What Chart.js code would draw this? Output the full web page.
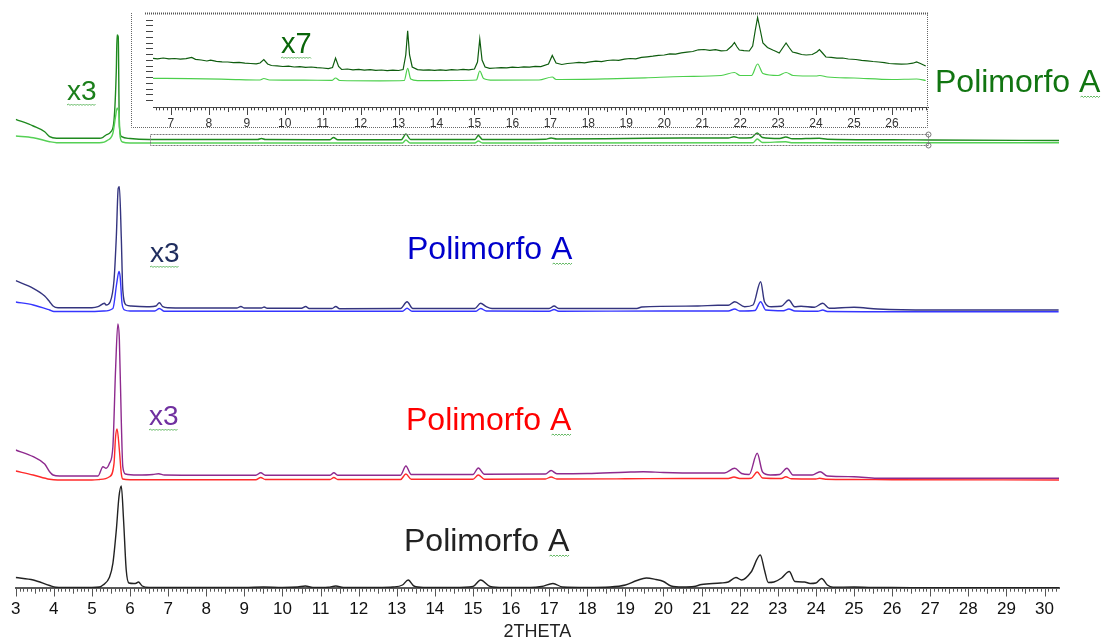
<!DOCTYPE html>
<html>
<head>
<meta charset="utf-8">
<script src="https://cdn.jsdelivr.net/npm/chart.js@4/dist/chart.umd.min.js"></script>
<style>
  html, body { margin: 0; padding: 0; background: #ffffff; }
  #wrap { position: relative; width: 1102px; height: 643px; overflow: hidden; }
  #main { position: absolute; left: 0; top: 0; }
  #inset { position: absolute; left: 131px; top: 12px; }
</style>
</head>
<body>
<div id="wrap">
  <canvas id="main" width="1102" height="643"></canvas>
  <canvas id="inset" width="798" height="118"></canvas>
</div>
<script>
// ---------------- DATA (2THETA, intensity above each trace's own baseline) ----------------
const xTickMin = 3, xTickMax = 30;
const insetTickMin = 7, insetTickMax = 26;

// vertical offsets of the stacked traces (intensity units)
const offBlack = 0, offRed = 108, offPurple = 112, offBlue = 276.5, offNavy = 279, offLightGreen = 445, offDarkGreen = 448;

const blackTrace = [[3.0,10.5],[3.46,8],[3.89,2.5],[4.05,0.8],[4.5,0.5],[5.0,0.5],[5.2,1],[5.29,3],[5.46,10.7],[5.55,24.7],[5.64,58],[5.71,91.3],[5.77,102],[5.83,68],[5.9,18],[5.97,5],[6.1,4.5],[6.16,4.7],[6.22,6],[6.32,2],[6.5,0.5],[7.0,0.5],[8.0,0.5],[9.0,0.5],[9.5,1],[10.0,0.5],[10.4,1],[10.6,2],[10.8,0.5],[11.2,0.8],[11.4,2],[11.6,0.5],[12.5,0.5],[12.9,1],[13.15,3],[13.3,8],[13.45,2],[13.7,0.5],[14.5,0.5],[15.0,1.5],[15.2,8],[15.45,1.5],[15.8,0.5],[16.5,0.5],[16.8,1.5],[17.1,4.5],[17.35,1],[18.0,0.5],[18.6,1],[19.0,3],[19.3,7.5],[19.55,10],[19.8,8.5],[20.0,6.5],[20.2,2],[20.5,1],[20.8,1.5],[21.0,3.5],[21.5,5],[21.7,6],[21.9,10.5],[22.05,8],[22.3,16],[22.54,33],[22.65,18],[22.75,5.5],[22.9,6],[23.1,10],[23.3,16.5],[23.45,6.5],[23.7,6],[23.85,4.5],[24.0,5],[24.15,9.5],[24.3,3],[24.45,0.8],[25.0,1],[25.5,0.5],[26.0,0.5],[27.0,0.3],[28.0,0.3],[29.0,0.3],[30.38,0.3]];

const redTrace = [[3.0,9],[3.46,5],[3.89,0.7],[4.1,0],[5.0,0],[5.2,0.5],[5.46,3.3],[5.58,16.7],[5.62,43],[5.66,51],[5.72,30],[5.77,6.7],[5.81,1],[6.0,0.3],[8.0,0.3],[9.3,0.3],[9.43,2.5],[9.55,0.5],[11.25,0.5],[11.35,2.5],[11.45,0.5],[13.1,0.5],[13.24,6],[13.38,0.8],[15.0,0.8],[15.14,5],[15.3,0.8],[16.9,1],[17.05,3],[17.2,1],[19.0,1.2],[20.5,1.5],[21.7,1.5],[21.85,3],[22.0,1.5],[22.3,1.8],[22.46,8],[22.6,2],[23.1,1.5],[23.21,3.3],[23.35,1.2],[24.0,1],[24.1,1.8],[24.25,0.8],[25.0,0.5],[26.0,0.3],[30.38,0]];

const purpleTrace = [[3.0,26],[3.46,19.3],[3.76,12],[3.89,4.3],[3.98,1],[4.15,0],[5.16,0],[5.29,9.3],[5.37,7.7],[5.46,12.7],[5.55,29.3],[5.62,106],[5.68,152],[5.72,136],[5.77,56],[5.81,9.3],[5.88,2],[6.2,1],[6.6,1.5],[6.75,2.3],[6.9,1],[8.0,0.8],[9.3,0.8],[9.43,3.3],[9.55,0.8],[11.25,0.8],[11.35,3.3],[11.45,0.8],[13.1,0.8],[13.24,10],[13.38,1.5],[15.0,1.5],[15.14,8],[15.3,1.8],[16.9,2],[17.05,5.5],[17.2,2.2],[18.0,2.5],[19.0,3.8],[19.47,4.3],[20.0,3.5],[21.0,3],[21.6,3],[21.87,7.7],[22.05,2.5],[22.25,1.5],[22.46,22.7],[22.6,4],[22.8,1],[23.05,1.5],[23.24,7.7],[23.4,1],[23.9,1],[24.11,4.3],[24.3,0],[25.0,-0.7],[25.6,-2.3],[27.0,-2.3],[30.38,-2.3]];

const navyTrace = [[3.0,28.3],[3.46,20.7],[3.76,13],[3.89,7.3],[3.98,3],[4.11,1.3],[5.0,1.3],[5.16,2.3],[5.33,5.7],[5.37,4],[5.48,7.3],[5.58,29],[5.64,72],[5.69,120.7],[5.72,122.3],[5.77,72],[5.81,19],[5.9,4],[6.03,3],[6.51,2.3],[6.68,3],[6.77,6.3],[6.86,2.3],[7.0,1.3],[8.0,1],[8.8,1],[8.91,2.5],[9.0,1],[9.45,1],[9.52,2],[9.6,0.7],[10.5,0.7],[10.61,2.5],[10.7,0.5],[11.3,0.5],[11.4,2.5],[11.5,0.3],[13.1,0.5],[13.27,7.3],[13.42,0.5],[15.05,0.5],[15.2,5.7],[15.35,2.3],[15.5,0.5],[17.0,0.5],[17.13,3],[17.25,0.5],[19.3,0.5],[19.43,2],[20.9,3],[21.43,3.7],[21.7,3.7],[21.87,7.3],[22.13,2.3],[22.35,4],[22.55,27.3],[22.65,7.3],[22.83,2.3],[23.09,2.7],[23.29,9],[23.44,2.3],[23.61,2.7],[23.96,1.7],[24.18,5.7],[24.35,0.7],[25.0,1.7],[25.62,0],[27.0,-1],[30.37,-1]];

const blueTrace = [[3.0,9.5],[3.46,6.5],[3.89,1.5],[4.0,0],[5.0,0],[5.3,0.5],[5.55,3],[5.65,28],[5.71,40],[5.74,35],[5.79,8],[5.86,1.5],[6.0,0.5],[6.65,0.5],[6.77,3],[6.9,0.3],[13.15,0.3],[13.27,3.2],[13.4,0.3],[15.08,0.3],[15.2,3],[15.35,0.5],[17.0,0.3],[17.13,2],[17.25,0.3],[20.0,0.5],[21.7,0.5],[21.87,2.5],[22.0,0.5],[22.4,1],[22.55,9.8],[22.68,1.5],[23.15,0.8],[23.29,2.5],[23.45,0.5],[24.05,0.3],[24.18,1.5],[24.3,0],[25.6,-0.2],[30.37,-0.2]];

const darkGreenTrace = [[3.0,20.7],[3.46,14],[3.76,8.3],[3.89,3.3],[4.07,1.7],[5.2,1.7],[5.29,2.7],[5.37,5],[5.5,8.3],[5.58,20],[5.64,70],[5.66,105],[5.69,103.3],[5.72,13.3],[5.78,3.3],[6.0,1.5],[6.5,0.5],[9.35,0.5],[9.45,1.5],[9.55,0.5],[11.25,0.3],[11.34,2.5],[11.45,0.3],[13.12,0.3],[13.24,6],[13.36,0.5],[15.05,0.5],[15.14,4.5],[15.25,0.5],[16.9,0.8],[17.05,2],[17.2,1],[19.0,1.5],[20.5,2],[21.7,2],[21.85,3.2],[22.0,2],[22.3,2.2],[22.46,7],[22.6,2.5],[23.05,1.5],[23.21,3],[23.38,1.2],[24.09,1.8],[24.3,0.8],[26.0,0.3],[27.0,0],[30.38,-0.5]];

const lightGreenTrace = [[3.0,7],[3.46,5.3],[3.89,1.3],[4.07,0.3],[5.2,0.3],[5.42,3],[5.55,9.7],[5.62,26.3],[5.66,34.7],[5.71,29.7],[5.74,6.3],[5.8,1],[6.0,0],[13.15,0],[13.24,3],[13.35,0],[15.05,0],[15.14,2],[15.25,0],[22.35,0.3],[22.46,4],[22.6,0.5],[23.21,1.2],[23.35,0.3],[30.38,0.3]];

// inset (zoom x7 of the top pattern, 6.5-27 2THETA)
const insetDarkTrace = [[6.53,48.7],[6.65,48.2],[6.8,49.0],[6.95,48.1],[7.1,48.5],[7.25,47.8],[7.4,48.4],[7.55,49.5],[7.65,47.6],[7.8,47.0],[7.95,46.0],[8.05,46.8],[8.2,45.7],[8.35,45.2],[8.5,45.0],[8.65,44.4],[8.8,44.6],[8.95,43.8],[9.1,43.5],[9.25,43.2],[9.35,44.0],[9.45,47.5],[9.55,43.0],[9.65,41.5],[9.8,41.2],[9.95,40.5],[10.1,40.8],[10.25,40.0],[10.4,40.4],[10.55,39.7],[10.7,40.0],[10.85,39.4],[11.0,39.0],[11.15,38.4],[11.26,39.5],[11.34,49.0],[11.42,40.5],[11.5,37.5],[11.65,38.0],[11.8,37.2],[11.95,37.7],[12.1,36.8],[12.25,37.4],[12.4,36.6],[12.55,37.0],[12.7,36.4],[12.85,36.8],[13.0,36.5],[13.12,37.5],[13.19,52],[13.24,76.3],[13.29,52],[13.36,40],[13.5,37.4],[13.65,36.8],[13.8,37.2],[13.95,36.6],[14.1,37.1],[14.25,36.7],[14.4,37.3],[14.55,37.0],[14.7,37.6],[14.85,37.2],[15.0,38.0],[15.08,45],[15.14,68],[15.2,47],[15.28,40],[15.4,38.6],[15.55,39.0],[15.7,39.4],[15.85,39.1],[16.0,39.8],[16.15,39.5],[16.3,40.2],[16.45,39.9],[16.6,40.6],[16.75,40.4],[16.95,43],[17.05,51.5],[17.15,44],[17.3,42.5],[17.45,43.5],[17.6,44.0],[17.75,44.6],[17.9,44.2],[18.05,45.2],[18.2,45.8],[18.35,45.4],[18.5,46.5],[18.65,47.0],[18.8,46.6],[18.95,47.8],[19.1,48.5],[19.25,48.1],[19.4,49.6],[19.55,50.2],[19.7,50.8],[19.85,51.6],[20.0,52.0],[20.15,53.2],[20.3,52.8],[20.45,54.2],[20.6,54.8],[20.75,55.5],[20.9,57.2],[21.05,57.5],[21.2,56.7],[21.35,57.4],[21.5,56.2],[21.65,56.5],[21.78,61],[21.85,64.5],[21.92,60],[21.98,57],[22.1,56.4],[22.24,56],[22.33,61],[22.4,77],[22.46,89.5],[22.53,77],[22.6,64],[22.72,59.5],[22.86,57],[22.95,55.5],[23.03,54],[23.12,59],[23.21,64],[23.3,59],[23.38,55],[23.5,53.8],[23.62,52.5],[23.74,52],[23.9,52.5],[24.02,55],[24.09,57.5],[24.17,54],[24.26,50],[24.4,49.6],[24.55,48.8],[24.7,49.0],[24.85,48.0],[25.05,47.5],[25.2,46.6],[25.35,46.2],[25.5,45.5],[25.65,45.0],[25.8,44.4],[25.93,43.5],[26.1,43.2],[26.25,42.8],[26.4,43.0],[26.55,43.8],[26.65,45.0],[26.75,43.5],[26.89,41]];

const insetLightTrace = [[6.53,28.7],[7.5,28.4],[8.5,27.7],[9.35,27],[9.45,28.5],[9.6,27],[10.5,26.8],[11.25,26.7],[11.34,29],[11.45,26.5],[12.5,26.2],[13.15,26.5],[13.24,38.7],[13.32,28],[13.5,26.4],[14.5,26.5],[15.05,27],[15.14,36],[15.24,28.5],[15.5,26.8],[16.7,27],[17.05,30],[17.15,27.5],[18.5,28.2],[19.5,29.2],[20.5,30.5],[21.5,31.5],[21.85,34.5],[22.0,31.5],[22.3,31.5],[22.46,43],[22.6,33.5],[23.0,31.5],[23.21,34.5],[23.4,31.5],[24.0,31],[24.1,31.5],[24.3,30],[25.0,29],[26.0,27.5],[26.65,28],[26.89,26.5]];

// ---------------- TEXT ----------------
const FONT = '"Liberation Sans", Arial, sans-serif';
const labelTitle = 'Polimorfo A';
const labelScale3 = 'x3';
const labelScale7 = 'x7';
const axisTitle = '2THETA';

// ---------------- HELPERS ----------------
function ds(pts, off, color, w, smooth) {
  const d = {
    data: pts.map(p => ({ x: p[0], y: p[1] + off })),
    borderColor: color, borderWidth: w, pointRadius: 0, fill: false, showLine: true
  };
  if (smooth) d.cubicInterpolationMode = 'monotone'; else d.tension = 0;
  return d;
}
function squiggle(ctx, x0, x1, y) {
  ctx.save();
  ctx.strokeStyle = '#63b863'; ctx.lineWidth = 1; ctx.setLineDash([]);
  ctx.beginPath();
  let up = true;
  ctx.moveTo(x0, y);
  for (let x = x0 + 1.5; x <= x1; x += 1.5) { ctx.lineTo(x, up ? y - 1 : y + 0.5); up = !up; }
  ctx.stroke();
  ctx.restore();
}
function drawLabel(ctx, text, x, y, size, color, sqFrom, sqTo) {
  ctx.save();
  ctx.font = size + 'px ' + FONT;
  ctx.fillStyle = color;
  ctx.textBaseline = 'alphabetic';
  ctx.textAlign = 'left';
  ctx.fillText(text, x, y);
  const w = ctx.measureText(text).width;
  ctx.restore();
  const a = sqFrom === undefined ? x : x + w * sqFrom;
  const b = sqTo === undefined ? x + w : x + w * sqTo;
  squiggle(ctx, a, b, y + 5);
}
function drawXTicks(ctx, xs, lens, color) {
  ctx.save();
  ctx.strokeStyle = color; ctx.lineWidth = 1;
  const i0 = Math.ceil(xs.min * 10 - 1e-6), i1 = Math.floor(xs.max * 10 + 1e-6);
  ctx.beginPath();
  for (let i = i0; i <= i1; i++) {
    const px = Math.round(xs.getPixelForValue(i / 10)) + 0.5;
    const len = i % 10 === 0 ? lens[0] : (i % 5 === 0 ? lens[1] : lens[2]);
    ctx.moveTo(px, xs.top);
    ctx.lineTo(px, xs.top + len);
  }
  ctx.stroke();
  ctx.restore();
}

// ---------------- MAIN CHART ----------------
const mainDecor = {
  id: 'mainDecor',
  afterDraw(chart) {
    const ctx = chart.ctx, xs = chart.scales.x, ys = chart.scales.y;
    drawXTicks(ctx, xs, [8.5, 5.7, 3.7], '#555');
    // dotted zoom window of the inset
    ctx.save();
    ctx.strokeStyle = '#777'; ctx.lineWidth = 1; ctx.setLineDash([2, 1]);
    const xa = Math.round(xs.getPixelForValue(6.53)) + 0.5, xb = Math.round(xs.getPixelForValue(26.95)) + 0.5;
    const ya = Math.round(ys.getPixelForValue(454)) + 0.5, yb = Math.round(ys.getPixelForValue(443)) + 0.5;
    ctx.strokeRect(xa, ya, xb - xa, yb - ya);
    ctx.setLineDash([]);
    ctx.beginPath(); ctx.arc(xb, ya, 2.5, 0, Math.PI * 2); ctx.stroke();
    ctx.beginPath(); ctx.arc(xb, yb, 2.5, 0, Math.PI * 2); ctx.stroke();
    ctx.restore();
    // labels
    drawLabel(ctx, labelScale3, 67, 100, 28, '#1b7f1b');
    drawLabel(ctx, labelTitle, 935, 92, 32, '#117511', 0.88, 1);
    drawLabel(ctx, labelScale3, 150, 262, 28, '#1f2d5e');
    drawLabel(ctx, labelTitle, 407, 259, 32, '#0000cc', 0.88, 1);
    drawLabel(ctx, labelScale3, 149, 425, 28, '#7030a0');
    drawLabel(ctx, labelTitle, 406, 430, 32, '#ff0000', 0.88, 1);
    drawLabel(ctx, labelTitle, 404, 551, 32, '#222222', 0.88, 1);
  }
};

new Chart(document.getElementById('main'), {
  type: 'line',
  data: {
    datasets: [
      ds(blackTrace, offBlack, '#222222', 1.4, true),
      ds(redTrace, offRed, '#ff2a2a', 1.4, true),
      ds(purpleTrace, offPurple, '#8e2a8e', 1.4, true),
      ds(blueTrace, offBlue, '#3535ff', 1.4, true),
      ds(navyTrace, offNavy, '#34347f', 1.4, true),
      ds(lightGreenTrace, offLightGreen, '#55d055', 1.4, true),
      ds(darkGreenTrace, offDarkGreen, '#1f8a1f', 1.4, true)
    ]
  },
  options: {
    responsive: false, animation: false, maintainAspectRatio: false,
    layout: { padding: { left: 12.6, right: 43, top: 0, bottom: 0 } },
    plugins: { legend: { display: false }, tooltip: { enabled: false } },
    scales: {
      x: {
        type: 'linear', position: 'bottom', min: 3, max: 30.38,
        afterFit: s => { s.height = 55; },
        grid: { display: false, drawTicks: false },
        border: { display: true, color: '#5a5a5a', width: 2 },
        ticks: {
          stepSize: 1, includeBounds: false, padding: 11, maxRotation: 0, autoSkip: false,
          color: '#111', font: { family: FONT, size: 17 },
          callback: v => (v >= xTickMin && v <= xTickMax && Number.isInteger(v)) ? String(v) : ''
        },
        title: { display: true, text: axisTitle, color: '#222', font: { family: FONT, size: 18 }, padding: { top: 0, bottom: 0 } }
      },
      y: { display: false, min: 0, max: 588 }
    }
  },
  plugins: [mainDecor]
});

// ---------------- INSET CHART ----------------
const insetDecor = {
  id: 'insetDecor',
  afterDraw(chart) {
    const ctx = chart.ctx, xs = chart.scales.x, ys = chart.scales.y;
    drawXTicks(ctx, xs, [8, 5, 3.3], '#444');
    // left y ticks (no labels)
    ctx.save();
    ctx.strokeStyle = '#444'; ctx.lineWidth = 1;
    ctx.beginPath();
    for (let v = 7; v <= 93; v += 5.75) {
      const py = Math.round(ys.getPixelForValue(v)) + 0.5;
      ctx.moveTo(xs.left - 7, py); ctx.lineTo(xs.left, py);
    }
    ctx.stroke();
    // dotted frame
    ctx.strokeStyle = '#666'; ctx.setLineDash([1, 1]);
    ctx.beginPath();
    ctx.moveTo(0.5, 1); ctx.lineTo(0.5, 115.5); ctx.lineTo(796.5, 115.5); ctx.lineTo(796.5, 1);
    ctx.stroke();
    ctx.lineWidth = 2; ctx.strokeStyle = '#555';
    ctx.beginPath(); ctx.moveTo(14, 1.5); ctx.lineTo(797, 1.5); ctx.stroke();
    ctx.restore();
    drawLabel(ctx, labelScale7, 150, 41, 29, '#0a650a');
  }
};

new Chart(document.getElementById('inset'), {
  type: 'line',
  data: {
    datasets: [
      ds(insetLightTrace, 0, '#4ccf4c', 1.2, true),
      ds(insetDarkTrace, 0, '#0e5c0e', 1.2, false)
    ]
  },
  options: {
    responsive: false, animation: false, maintainAspectRatio: false,
    layout: { padding: { left: 22, right: 1, top: 1.5, bottom: 0 } },
    plugins: { legend: { display: false }, tooltip: { enabled: false } },
    scales: {
      x: {
        type: 'linear', position: 'bottom', min: 6.53, max: 26.95,
        afterFit: s => { s.height = 23; },
        grid: { display: false, drawTicks: false },
        border: { display: true, color: '#444', width: 1 },
        ticks: {
          stepSize: 1, includeBounds: false, padding: 9, maxRotation: 0, autoSkip: false,
          color: '#333', font: { family: FONT, size: 12 },
          callback: v => (v >= insetTickMin && v <= insetTickMax && Number.isInteger(v)) ? String(v) : ''
        }
      },
      y: { display: false, min: 0, max: 93.5 }
    }
  },
  plugins: [insetDecor]
});
</script>
</body>
</html>
